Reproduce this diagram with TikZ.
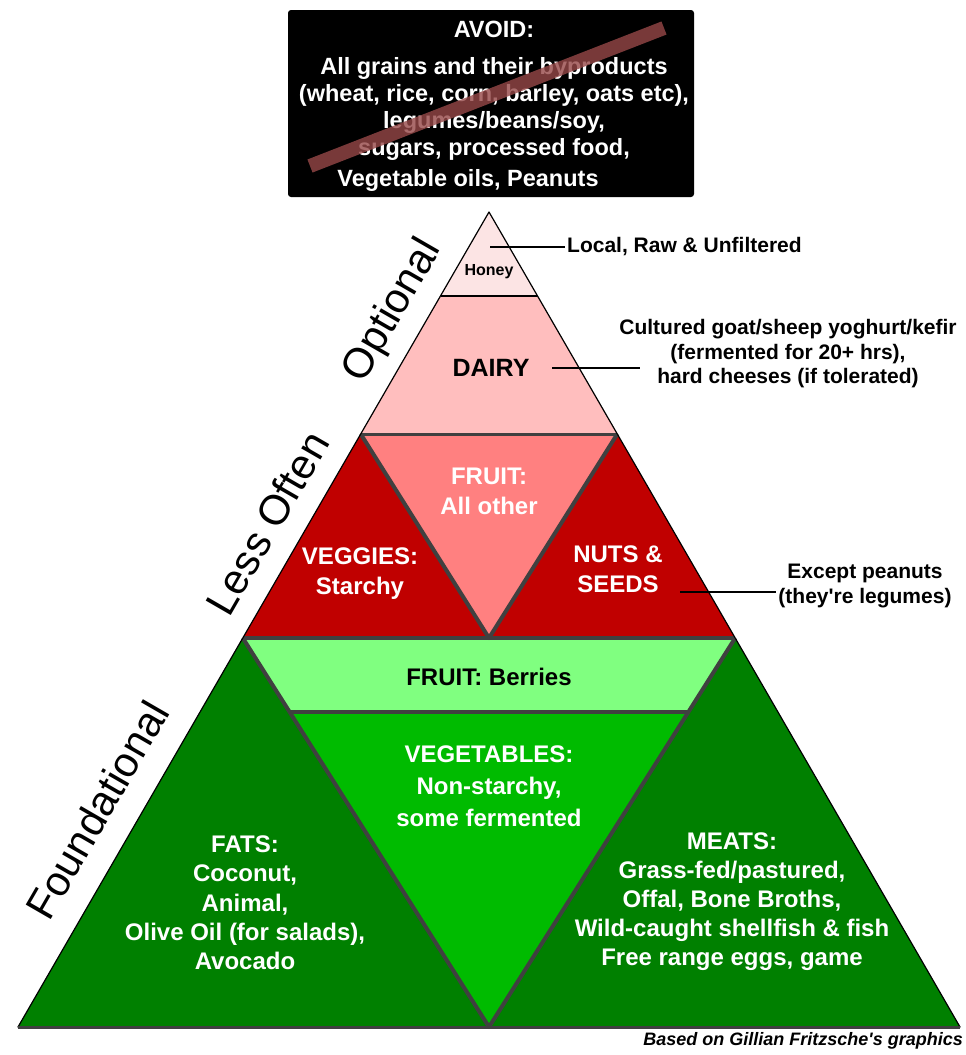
\documentclass[tikz,border=0pt]{standalone}
\usepackage{fontspec}
\setmainfont{Liberation Sans}
\usepackage{tikz}
\usetikzlibrary{%
  calc%
}
\definecolor{honeypink}{RGB}{252,228,228}
\definecolor{dairypink}{RGB}{255,190,190}
\definecolor{fruitpink}{RGB}{255,128,128}
\definecolor{nutred}{RGB}{192,0,0}
\definecolor{berrygreen}{RGB}{128,255,128}
\definecolor{veggreen}{RGB}{0,187,0}
\definecolor{leafgreen}{RGB}{0,128,0}
\definecolor{divgray}{RGB}{64,64,64}
\definecolor{strike}{RGB}{150,72,72}
\tikzset{>=latex}
\tikzset{
  boxtext/.style={text=white,font=\bfseries\fontsize{23.5}{27}\selectfont,align=center,inner sep=1pt},
  inside/.style={font=\bfseries\fontsize{24}{30}\selectfont,align=center,inner sep=1pt},
  sidelabel/.style={font=\fontsize{42}{48}\selectfont,rotate=60,inner sep=1pt},
  note/.style={font=\bfseries\fontsize{21}{24.5}\selectfont,align=center,inner sep=2pt},
  divider/.style={draw=divgray,line width=4pt,line join=round},
  rim/.style={draw=black,line width=1.2pt,line join=round},
  tick/.style={draw=black,line width=2.5pt}
}

\begin{document}
\begin{tikzpicture}[x=1pt,y=-1pt]
  \useasboundingbox (0,0) rectangle (966,1055);

  \coordinate (top) at (489,212);
  \coordinate (bl) at (18,1027);
  \coordinate (br) at (960,1027);
  \coordinate (bm) at (489,1027);
  \coordinate (hl) at (440.5,296);
  \coordinate (hr) at (537.5,296);
  \coordinate (dl) at (360.7,434);
  \coordinate (dr) at (617.3,434);
  \coordinate (rl) at (242.8,638);
  \coordinate (rr) at (735.2,638);
  \coordinate (rm) at (489,638);
  \coordinate (gl) at ($(rl)!0.19!(bm)$);
  \coordinate (gr) at ($(rr)!0.19!(bm)$);

  \fill[honeypink] (top) -- (hl) -- (hr) -- cycle;
  \fill[dairypink] (hl) -- (dl) -- (dr) -- (hr) -- cycle;
  \fill[fruitpink] (dl) -- (dr) -- (rm) -- cycle;
  \fill[nutred] (dl) -- (rl) -- (rm) -- cycle;
  \fill[nutred] (dr) -- (rm) -- (rr) -- cycle;
  \fill[leafgreen] (rl) -- (bl) -- (bm) -- cycle;
  \fill[leafgreen] (rr) -- (bm) -- (br) -- cycle;
  \fill[berrygreen] (rl) -- (rr) -- (gr) -- (gl) -- cycle;
  \fill[veggreen] (gl) -- (gr) -- (bm) -- cycle;

  \draw[divider] (dl) -- (rm) -- (dr);
  \draw[divider] (rl) -- (bm) -- (rr);
  \draw[divider] (rl) -- (rr);
  \draw[divider] (gl) -- (gr);
  \draw[divider,line width=3pt] (dl) -- (dr);
  \draw[line width=2pt] (hl) -- (hr);
  \draw[rim] (top) -- (bl) -- (br) -- cycle;
  \draw[divider,line width=3pt] (bl) -- (br);

  % avoid box
  \fill[black,rounded corners=3pt] (288,10) rectangle (694,197);
  \node[boxtext] (avoid) at (494,29) {AVOID:};
  \node[boxtext] (grains) at (494,109) {All grains and their byproducts\\
    (wheat, rice, corn, barley, oats etc),\\legumes/beans/soy,\\sugars, processed food,};
  \node[boxtext] (oils) at (468,180) {Vegetable oils, Peanuts};
  \draw[strike,opacity=0.8,line width=14pt] (310,166) -- (664,28);

  \node[inside,font=\bfseries\fontsize{16}{18}\selectfont] (honey) at (489,272) {Honey};
  \node[inside,font=\bfseries\fontsize{25}{30}\selectfont] (dairy) at (491,368) {DAIRY};
  \node[inside,text=white] (fruit) at (489,491) {FRUIT:\\All other};
  \node[inside,text=white] (veggies) at (360,574) {VEGGIES:\\Starchy};
  \node[inside,text=white] (nuts) at (618,569) {NUTS \&\\SEEDS};
  \node[inside] (berries) at (489,677) {FRUIT: Berries};
  \node[inside,text=white,font=\bfseries\fontsize{24}{32}\selectfont] (vegetables) at (489,786)
    {VEGETABLES:\\Non-starchy,\\some fermented};
  \node[inside,text=white,font=\bfseries\fontsize{24}{29.3}\selectfont] (fats) at (245,903)
    {FATS:\\Coconut,\\Animal,\\Olive Oil (for salads),\\Avocado};
  \node[inside,text=white,font=\bfseries\fontsize{24}{29}\selectfont] (meats) at (732,902)
    {MEATS:\\Grass-fed/pastured,\\Offal, Bone Broths,\\Wild-caught shellfish \& fish\\Free range eggs, game};

  \node[sidelabel] (optional) at (393,311) {Optional};
  \node[sidelabel] (lessoften) at (267,523) {Less Often};
  \node[sidelabel] (foundational) at (97,810) {Foundational};

  \node[note,anchor=west] (localnote) at (565,247) {Local, Raw \& Unfiltered};
  \node[note] (dairynote) at (788,354) {Cultured goat/sheep yoghurt/kefir\\
    (fermented for 20+ hrs),\\hard cheeses (if tolerated)};
  \node[note] (nutsnote) at (865,586) {Except peanuts\\(they\textquotesingle re legumes)};

  \coordinate (honeytick) at (490,247);
  \coordinate (dairytick) at (552,368);
  \coordinate (dairyend) at (640,368);
  \coordinate (nutstick) at (680,592);
  \draw[tick] (honeytick) -- (localnote.west);
  \draw[tick] (dairytick) -- (dairyend);
  \draw[tick] (nutstick) -- (nutstick -| nutsnote.west);

  \node[font=\bfseries\itshape\fontsize{18}{20}\selectfont,anchor=east,inner sep=0pt] (credit)
    at (963,1041) {Based on Gillian Fritzsche\textquotesingle s graphics};
\end{tikzpicture}
\end{document}
